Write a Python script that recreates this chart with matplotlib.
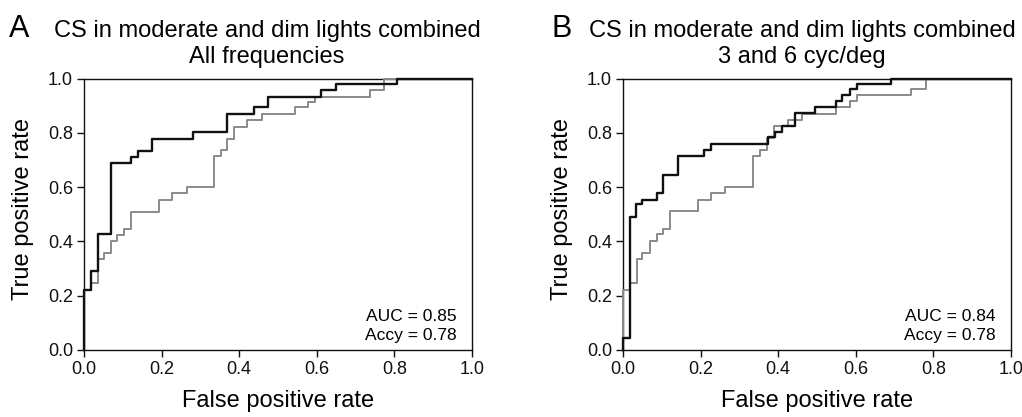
import matplotlib
matplotlib.use("Agg")
import matplotlib.pyplot as plt

plt.rcParams['font.family'] = ['Liberation Sans', 'DejaVu Sans']

# ---- Data (FPR where each vertical step occurs, TPR after the step) ----
a_black_fpr = [0, 0, 0.017, 0.035, 0.069, 0.121, 0.140, 0.174, 0.282, 0.369, 0.438, 0.475, 0.612, 0.650, 0.807, 1.0]
a_black_tpr = [0, 0.22, 0.29, 0.427, 0.689, 0.711, 0.734, 0.777, 0.803, 0.871, 0.894, 0.932, 0.956, 0.978, 1.0, 1.0]

a_gray_fpr = [0, 0, 0.017, 0.035, 0.052, 0.069, 0.086, 0.104, 0.121, 0.193, 0.226, 0.265, 0.335, 0.352, 0.369, 0.387,
              0.421, 0.458, 0.544, 0.578, 0.595, 0.737, 0.773, 1.0]
a_gray_tpr = [0, 0.22, 0.246, 0.335, 0.357, 0.400, 0.424, 0.445, 0.510, 0.553, 0.578, 0.600, 0.713, 0.735, 0.777, 0.822,
              0.846, 0.871, 0.894, 0.914, 0.932, 0.956, 1.0, 1.0]

b_black_fpr = [0, 0, 0.017, 0.033, 0.050, 0.087, 0.104, 0.141, 0.210, 0.228, 0.374, 0.391, 0.409, 0.443, 0.495, 0.548,
               0.565, 0.584, 0.604, 0.691, 1.0]
b_black_tpr = [0, 0.045, 0.489, 0.536, 0.554, 0.579, 0.643, 0.715, 0.737, 0.758, 0.783, 0.802, 0.826, 0.872, 0.895, 0.916,
               0.938, 0.960, 0.981, 1.0, 1.0]

b_gray_fpr = [0, 0, 0.017, 0.035, 0.050, 0.070, 0.087, 0.104, 0.122, 0.193, 0.228, 0.263, 0.335, 0.352, 0.370, 0.389,
              0.426, 0.461, 0.548, 0.584, 0.604, 0.743, 0.780, 1.0]
b_gray_tpr = [0, 0.22, 0.245, 0.334, 0.356, 0.400, 0.428, 0.446, 0.511, 0.554, 0.579, 0.601, 0.715, 0.736, 0.780, 0.826,
              0.848, 0.871, 0.895, 0.916, 0.938, 0.960, 1.0, 1.0]

ticks = [0.0, 0.2, 0.4, 0.6, 0.8, 1.0]
tick_labels = ["0.0", "0.2", "0.4", "0.6", "0.8", "1.0"]

panels = [
    dict(letter="A", title1="CS in moderate and dim lights combined", title2="All frequencies",
         bf=a_black_fpr, bt=a_black_tpr, gf=a_gray_fpr, gt=a_gray_tpr,
         auc="AUC = 0.85", accy="Accy = 0.78"),
    dict(letter="B", title1="CS in moderate and dim lights combined", title2="3 and 6 cyc/deg",
         bf=b_black_fpr, bt=b_black_tpr, gf=b_gray_fpr, gt=b_gray_tpr,
         auc="AUC = 0.84", accy="Accy = 0.78"),
]

W, H = 1022, 417
fig = plt.figure(figsize=(W / 100, H / 100), dpi=100)

ax_left_px = [84, 623]
ax_w_px = 388
ax_top_px, ax_bot_px = 78.5, 350
title_cx_px = [267, 802]
letter_x_px = [9, 551]

for i, p in enumerate(panels):
    ax = fig.add_axes([ax_left_px[i] / W, (H - ax_bot_px) / H, ax_w_px / W, (ax_bot_px - ax_top_px) / H])
    ax.plot(p["gf"], p["gt"], drawstyle="steps-post", color="#8a8a8a", lw=1.4, zorder=3, clip_on=False)
    ax.plot(p["bf"], p["bt"], drawstyle="steps-post", color="#111111", lw=1.7, zorder=3.2, clip_on=False)
    ax.set_xlim(0, 1)
    ax.set_ylim(0, 1)
    ax.set_xticks(ticks)
    ax.set_xticklabels(tick_labels)
    ax.set_yticks(ticks)
    ax.set_yticklabels(tick_labels)
    ax.tick_params(direction="out", length=5, width=1, labelsize=13, pad=3, colors="#111111")
    for s in ax.spines.values():
        s.set_linewidth(1.0)
        s.set_color("#111111")
    ax.set_xlabel("False positive rate", fontsize=17)
    ax.set_ylabel("True positive rate", fontsize=17)
    ax.xaxis.set_label_coords(0.5, -0.148)
    ax.yaxis.set_label_coords(-0.128, 0.52)
    ax.text(0.96, 0.105, p["auc"], transform=ax.transAxes, ha="right", va="baseline", fontsize=12.5)
    ax.text(0.96, 0.037, p["accy"], transform=ax.transAxes, ha="right", va="baseline", fontsize=12.5)

    fig.text(title_cx_px[i] / W, (H - 36.7) / H, p["title1"], ha="center", va="baseline", fontsize=17)
    fig.text(title_cx_px[i] / W, (H - 63.3) / H, p["title2"], ha="center", va="baseline", fontsize=17)
    fig.text(letter_x_px[i] / W, (H - 36.7) / H, p["letter"], ha="left", va="baseline", fontsize=22)

fig.savefig("out.png", dpi=100)
